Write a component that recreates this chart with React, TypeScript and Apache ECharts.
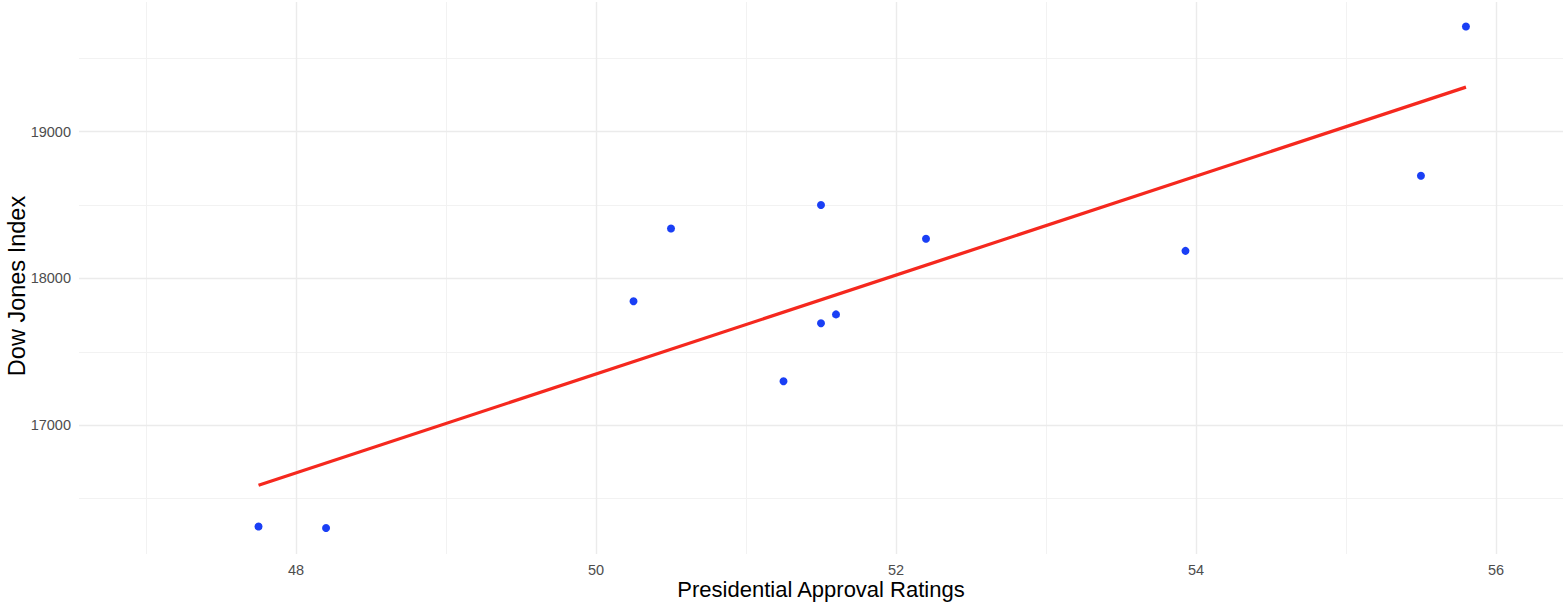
import React, { useEffect, useRef } from "react";
import * as echarts from "echarts";

const approval = [47.75, 48.2, 50.25, 50.5, 51.25, 51.5, 51.5, 51.6, 52.2, 53.93, 55.5, 55.8];
const dowJones = [16310, 16300, 17845, 18340, 17300, 18500, 17695, 17755, 18270, 18188, 18700, 19716];

const xMajorTicks = [48, 50, 52, 54, 56];
const xMinorTicks = [47, 49, 51, 53, 55];
const yMajorTicks = [17000, 18000, 19000];
const yMinorTicks = [16500, 17500, 18500, 19500];

const X_MIN = 46.553;
const X_MAX = 56.447;
const Y_MIN = 16123;
const Y_MAX = 19883;

function fit(xs: number[], ys: number[]) {
  const n = xs.length;
  const mx = xs.reduce((a, b) => a + b, 0) / n;
  const my = ys.reduce((a, b) => a + b, 0) / n;
  let sxy = 0;
  let sxx = 0;
  for (let i = 0; i < n; i++) {
    sxy += (xs[i] - mx) * (ys[i] - my);
    sxx += (xs[i] - mx) * (xs[i] - mx);
  }
  const slope = sxy / sxx;
  return { slope, intercept: my - slope * mx };
}

export default function App() {
  const ref = useRef<HTMLDivElement>(null);

  useEffect(() => {
    document.body.style.margin = "0";
    if (!ref.current) return;
    const chart = echarts.init(ref.current, undefined, { renderer: "svg" });

    const { slope, intercept } = fit(approval, dowJones);
    const xLo = Math.min(...approval);
    const xHi = Math.max(...approval);
    const fitLine = [
      [xLo, intercept + slope * xLo],
      [xHi, intercept + slope * xHi],
    ];

    const gridLines = [
      ...xMinorTicks.map((v) => ({ xAxis: v, lineStyle: { color: "#f2f2f2", width: 1 } })),
      ...yMinorTicks.map((v) => ({ yAxis: v, lineStyle: { color: "#f2f2f2", width: 1 } })),
      ...xMajorTicks.map((v) => ({ xAxis: v, lineStyle: { color: "#ebebeb", width: 1.4 } })),
      ...yMajorTicks.map((v) => ({ yAxis: v, lineStyle: { color: "#ebebeb", width: 1.4 } })),
    ];

    const font = "Liberation Sans, Arial, Helvetica, sans-serif";

    chart.setOption({
      animation: false,
      backgroundColor: "#ffffff",
      grid: {
        left: 79,
        right: 2,
        top: 2,
        bottom: 49,
        containLabel: false,
        outerBoundsMode: "none",
      },
      xAxis: {
        type: "value",
        min: X_MIN,
        max: X_MAX,
        name: "Presidential Approval Ratings",
        nameLocation: "middle",
        nameGap: 24,
        nameMoveOverlap: false,
        nameTextStyle: { fontSize: 22, color: "#000000", fontFamily: font },
        axisLine: { show: false },
        axisTick: { show: false },
        splitLine: { show: false },
        axisLabel: {
          customValues: xMajorTicks,
          margin: 8,
          fontSize: 14.5,
          color: "#4d4d4d",
          fontFamily: font,
          formatter: (v: number) => String(v),
        },
      },
      yAxis: {
        type: "value",
        min: Y_MIN,
        max: Y_MAX,
        name: "Dow Jones Index",
        nameLocation: "middle",
        nameGap: 50,
        nameMoveOverlap: false,
        nameTextStyle: {
          fontSize: 23.5,
          color: "#000000",
          fontFamily: font,
          padding: [0, 16, 0, 0],
        },
        axisLine: { show: false },
        axisTick: { show: false },
        splitLine: { show: false },
        axisLabel: {
          customValues: yMajorTicks,
          margin: 8,
          fontSize: 14.5,
          color: "#4d4d4d",
          fontFamily: font,
          formatter: (v: number) => String(v),
        },
      },
      series: [
        {
          type: "scatter",
          data: approval.map((x, i) => [x, dowJones[i]]),
          symbolSize: 8,
          itemStyle: { color: "#1a3ff5", opacity: 1 },
          z: 3,
          silent: true,
          markLine: {
            silent: true,
            symbol: "none",
            z: 1,
            label: { show: false },
            lineStyle: { type: "solid" },
            emphasis: { disabled: true },
            data: gridLines,
          },
        },
        {
          type: "line",
          data: fitLine,
          showSymbol: false,
          symbol: "none",
          lineStyle: { color: "#f5281e", width: 3.3 },
          z: 2,
          silent: true,
        },
      ],
    });

    return () => chart.dispose();
  }, []);

  return <div ref={ref} style={{ width: 1565, height: 603 }} />;
}
